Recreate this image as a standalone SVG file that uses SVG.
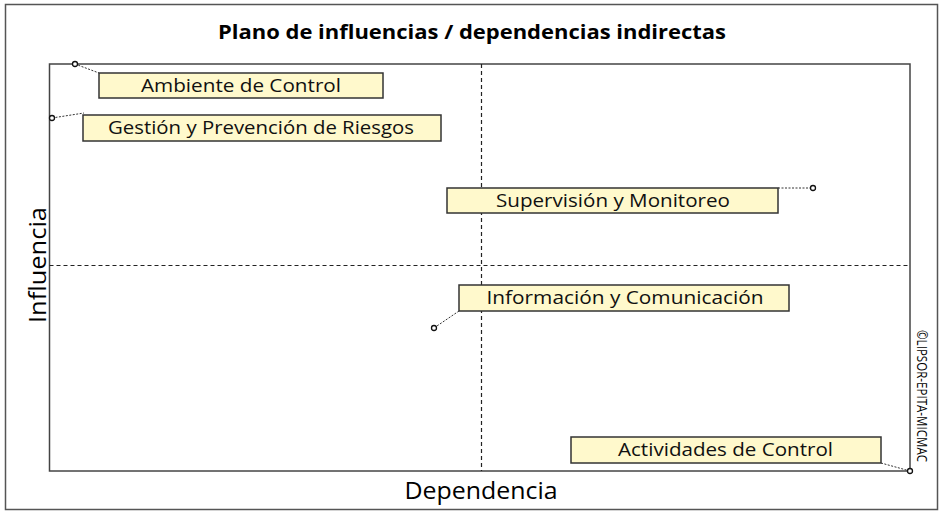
<svg xmlns="http://www.w3.org/2000/svg" width="945" height="514" viewBox="0 0 945 514">
<style>
.lbl{font-family:"Open Sans","Liberation Sans",sans-serif;font-size:18px;fill:#111;text-anchor:middle}
.box{fill:#fff9cc;stroke:#333;stroke-width:1.5}
.lead{stroke:#333;stroke-width:1;stroke-dasharray:2,1.5;fill:none}
.pt{fill:#fff;stroke:#111;stroke-width:1.3}
.axis{stroke:#444;stroke-width:1.5;fill:none}
.mid{stroke:#222;stroke-width:1.2;stroke-dasharray:4,3}
</style>
<rect x="0" y="0" width="945" height="514" fill="#fff"/>
<rect x="5.5" y="4.5" width="932" height="505" fill="none" stroke="#555" stroke-width="1.5"/>
<text x="472" y="39" font-family="'Open Sans','Liberation Sans',sans-serif" font-size="20" font-weight="bold" text-anchor="middle" textLength="508" lengthAdjust="spacingAndGlyphs">Plano de influencias / dependencias indirectas</text>
<g id="frame">
<rect x="49.5" y="64" width="860.5" height="407" class="axis"/>
<line x1="481.5" y1="64" x2="481.5" y2="471" class="mid"/>
<line x1="49.5" y1="265.5" x2="910" y2="265.5" class="mid"/>
</g>
<text x="0" y="0" transform="translate(46,265) rotate(-90)" font-family="'Open Sans','Liberation Sans',sans-serif" font-size="24" text-anchor="middle" textLength="116" lengthAdjust="spacingAndGlyphs">Influencia</text>
<text x="481" y="499" font-family="'Open Sans','Liberation Sans',sans-serif" font-size="24" text-anchor="middle" textLength="153" lengthAdjust="spacingAndGlyphs">Dependencia</text>
<text x="0" y="0" transform="translate(917,396) rotate(90)" font-family="'Open Sans','Liberation Sans',sans-serif" font-size="14" text-anchor="middle" textLength="132" lengthAdjust="spacingAndGlyphs">©LIPSOR-EPITA-MICMAC</text>
<g id="connectors">
<line x1="75" y1="64" x2="99" y2="73" class="lead"/>
<line x1="52" y1="118" x2="84" y2="113" class="lead"/>
<line x1="778" y1="188" x2="813" y2="188" class="lead"/>
<line x1="459" y1="311" x2="434" y2="328" class="lead"/>
<line x1="881" y1="463" x2="910" y2="471" class="lead"/>
</g>
<g id="ambiente">
<rect x="99" y="73" width="284" height="25" class="box"/>
<text x="241" y="92" class="lbl" textLength="200" lengthAdjust="spacingAndGlyphs">Ambiente de Control</text>
<circle cx="75" cy="64" r="2.5" class="pt"/>
</g>
<g id="gestion">
<rect x="83" y="115" width="358" height="26" class="box"/>
<text x="261" y="134" class="lbl" textLength="306" lengthAdjust="spacingAndGlyphs">Gestión y Prevención de Riesgos</text>
<circle cx="52" cy="118" r="2.5" class="pt"/>
</g>
<g id="supervision">
<rect x="447" y="188" width="331" height="25" class="box"/>
<text x="613" y="207" class="lbl" textLength="234" lengthAdjust="spacingAndGlyphs">Supervisión y Monitoreo</text>
<circle cx="813" cy="188" r="2.5" class="pt"/>
</g>
<g id="informacion">
<rect x="459" y="285" width="330" height="26" class="box"/>
<text x="625" y="304" class="lbl" textLength="277" lengthAdjust="spacingAndGlyphs">Información y Comunicación</text>
<circle cx="434" cy="328" r="2.5" class="pt"/>
</g>
<g id="actividades">
<rect x="571" y="437" width="310" height="26" class="box"/>
<text x="725.5" y="456" class="lbl" textLength="215" lengthAdjust="spacingAndGlyphs">Actividades de Control</text>
<circle cx="910" cy="471" r="2.5" class="pt"/>
</g>
</svg>
